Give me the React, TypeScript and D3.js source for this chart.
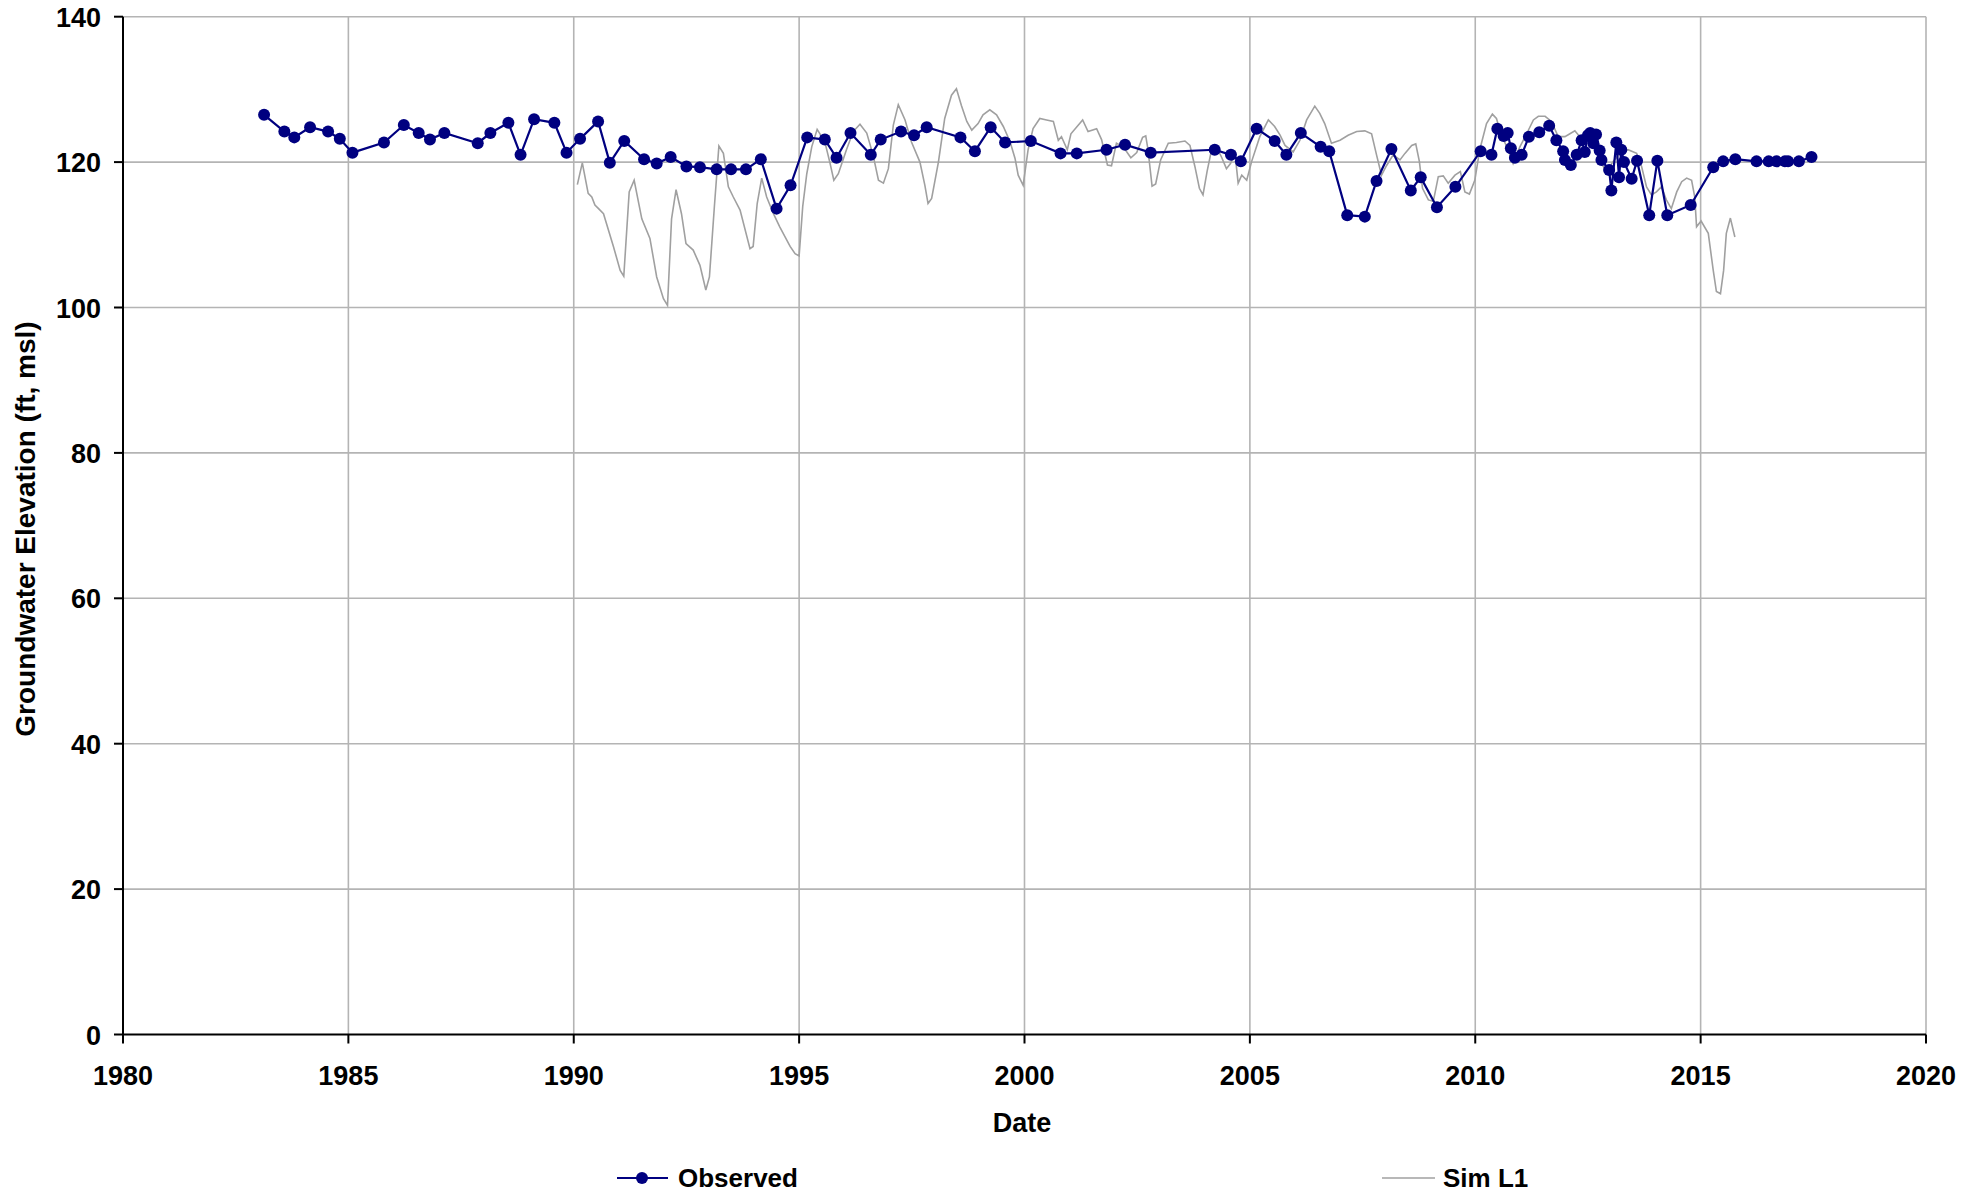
import React from "react";
import * as d3 from "d3";

const obsYear = [
  1983.13, 1983.58, 1983.8, 1984.15, 1984.55, 1984.81, 1985.09, 1985.79, 1986.23, 1986.56,
  1986.81, 1987.13, 1987.87, 1988.15, 1988.55, 1988.82, 1989.12, 1989.57, 1989.84, 1990.14,
  1990.54, 1990.8, 1991.12, 1991.56, 1991.84, 1992.15, 1992.5, 1992.8, 1993.17, 1993.49,
  1993.82, 1994.15, 1994.5, 1994.81, 1995.18, 1995.57, 1995.83, 1996.14, 1996.59, 1996.81,
  1997.26, 1997.55, 1997.83, 1998.58, 1998.9, 1999.25, 1999.57, 2000.14, 2000.8, 2001.16,
  2001.82, 2002.23, 2002.8, 2004.22, 2004.58, 2004.8, 2005.15, 2005.55, 2005.81, 2006.13,
  2006.57, 2006.76, 2007.16, 2007.55, 2007.81, 2008.14, 2008.57, 2008.79, 2009.15, 2009.56,
  2010.12, 2010.36, 2010.49, 2010.63, 2010.72, 2010.79, 2010.88, 2011.03, 2011.19, 2011.42,
  2011.64, 2011.8, 2011.95, 2011.99, 2012.12, 2012.25, 2012.36, 2012.43, 2012.5, 2012.55,
  2012.62, 2012.68, 2012.76, 2012.8, 2012.97, 2013.02, 2013.13, 2013.19, 2013.24, 2013.3,
  2013.47, 2013.59, 2013.86, 2014.04, 2014.26, 2014.78, 2015.28, 2015.5, 2015.77, 2016.24,
  2016.51, 2016.68, 2016.87, 2016.94, 2017.18, 2017.46,
];
const obsValue = [
  126.5, 124.2, 123.4, 124.8, 124.2, 123.2, 121.3, 122.7, 125.1, 124.0,
  123.1, 124.0, 122.6, 124.0, 125.4, 121.0, 125.9, 125.4, 121.3, 123.2,
  125.6, 119.9, 122.9, 120.4, 119.8, 120.7, 119.4, 119.3, 119.0, 119.0,
  119.0, 120.4, 113.6, 116.8, 123.4, 123.1, 120.6, 124.0, 121.0, 123.1,
  124.2, 123.7, 124.8, 123.4, 121.5, 124.8, 122.7, 122.9, 121.2, 121.2,
  121.7, 122.4, 121.3, 121.7, 121.0, 120.1, 124.6, 122.9, 121.0, 124.0,
  122.1, 121.5, 112.7, 112.5, 117.4, 121.8, 116.1, 117.9, 113.8, 116.6,
  121.5, 121.0, 124.6, 123.6, 124.0, 121.9, 120.6, 121.0, 123.5, 124.1,
  125.0, 123.0, 121.5, 120.3, 119.6, 121.0, 123.0, 121.4, 123.7, 124.0,
  122.6, 123.8, 121.6, 120.3, 118.9, 116.1, 122.7, 117.9, 121.7, 120.0,
  117.7, 120.2, 112.7, 120.2, 112.7, 114.1, 119.3, 120.1, 120.4, 120.1,
  120.1, 120.1, 120.1, 120.1, 120.1, 120.7,
];

const simYear = [
  1990.08, 1990.19, 1990.32, 1990.4, 1990.47, 1990.55, 1990.66, 1990.88, 1991.03, 1991.11,
  1991.23, 1991.34, 1991.51, 1991.69, 1991.84, 1991.99, 1992.08, 1992.17, 1992.27, 1992.39,
  1992.49, 1992.65, 1992.8, 1992.93, 1993.01, 1993.12, 1993.22, 1993.32, 1993.43, 1993.54,
  1993.69, 1993.91, 1993.98, 1994.07, 1994.17, 1994.28, 1994.43, 1994.57, 1994.8, 1994.91,
  1995.0, 1995.08, 1995.17, 1995.28, 1995.4, 1995.57, 1995.68, 1995.77, 1995.87, 1996.05,
  1996.2, 1996.35, 1996.5, 1996.64, 1996.76, 1996.87, 1996.98, 1997.09, 1997.2, 1997.35,
  1997.49, 1997.68, 1997.79, 1997.86, 1997.94, 1998.09, 1998.23, 1998.38, 1998.49, 1998.6,
  1998.72, 1998.83, 1998.97, 1999.08, 1999.23, 1999.38, 1999.53, 1999.68, 1999.79, 1999.86,
  1999.97, 2000.08, 2000.19, 2000.34, 2000.49, 2000.64, 2000.75, 2000.82, 2000.95, 2001.03,
  2001.29, 2001.41, 2001.6, 2001.71, 2001.84, 2001.93, 2002.04, 2002.19, 2002.36, 2002.49,
  2002.62, 2002.69, 2002.74, 2002.83, 2002.91, 2003.02, 2003.19, 2003.37, 2003.56, 2003.67,
  2003.78, 2003.88, 2003.96, 2004.05, 2004.15, 2004.26, 2004.37, 2004.48, 2004.57, 2004.67,
  2004.74, 2004.82, 2004.93, 2005.04, 2005.22, 2005.41, 2005.55, 2005.67, 2005.78, 2005.96,
  2006.11, 2006.26, 2006.44, 2006.55, 2006.66, 2006.81, 2007.0, 2007.18, 2007.37, 2007.55,
  2007.7, 2007.81, 2007.92, 2008.03, 2008.18, 2008.33, 2008.44, 2008.59, 2008.68, 2008.76,
  2008.83, 2008.96, 2009.07, 2009.18, 2009.29, 2009.4, 2009.55, 2009.67, 2009.77, 2009.87,
  2009.99, 2010.1, 2010.25, 2010.38, 2010.47, 2010.58, 2010.73, 2010.84, 2010.99, 2011.14,
  2011.29, 2011.4, 2011.55, 2011.69, 2011.84, 2011.99, 2012.1, 2012.21, 2012.32, 2012.47,
  2012.62, 2012.73, 2012.8, 2012.91, 2013.06, 2013.21, 2013.39, 2013.58, 2013.69, 2013.8,
  2013.91, 2014.02, 2014.13, 2014.24, 2014.35, 2014.47, 2014.58, 2014.69, 2014.8, 2014.87,
  2014.91, 2015.01, 2015.17, 2015.28, 2015.35, 2015.44, 2015.51, 2015.57, 2015.66, 2015.76,
];
const simValue = [
  116.9, 119.9, 115.7, 115.2, 114.1, 113.6, 112.9, 108.4, 105.1, 104.3,
  115.9, 117.5, 112.2, 109.5, 104.2, 101.2, 100.3, 112.2, 116.2, 112.9,
  108.8, 107.9, 105.8, 102.4, 104.2, 113.9, 122.2, 121.2, 116.6, 115.2,
  113.4, 108.1, 108.4, 114.3, 117.8, 115.2, 112.9, 111.1, 108.4, 107.4,
  107.1, 113.9, 118.4, 122.1, 124.5, 122.8, 120.0, 117.5, 118.4, 121.7,
  124.2, 125.2, 124.0, 121.0, 117.5, 117.1, 119.1, 125.1, 127.9, 125.8,
  122.8, 120.0, 116.8, 114.3, 115.0, 120.0, 126.0, 129.2, 130.1, 127.8,
  125.6, 124.4, 125.3, 126.5, 127.2, 126.5, 124.9, 122.8, 120.5, 118.2,
  116.8, 121.7, 124.6, 126.0, 125.8, 125.6, 123.0, 123.5, 121.7, 123.9,
  125.8, 124.2, 124.6, 123.1, 119.6, 119.5, 122.6, 122.1, 120.6, 121.3,
  123.4, 123.6, 121.7, 116.7, 117.0, 120.3, 122.6, 122.7, 122.9, 122.3,
  119.4, 116.4, 115.5, 118.7, 121.7, 122.1, 120.7, 119.1, 119.8, 121.2,
  117.1, 118.2, 117.5, 120.1, 123.5, 125.8, 124.9, 123.7, 122.3, 121.4,
  123.0, 125.8, 127.7, 126.7, 125.3, 122.6, 123.0, 123.7, 124.2, 124.3,
  123.9, 121.0, 118.2, 119.5, 121.0, 120.3, 121.2, 122.3, 122.5, 120.1,
  116.4, 114.8, 114.6, 118.0, 118.1, 117.1, 118.2, 118.7, 115.9, 115.6,
  117.5, 121.7, 125.3, 126.6, 126.0, 123.7, 121.7, 119.8, 122.1, 123.9,
  125.8, 126.3, 126.3, 125.6, 123.5, 123.5, 123.9, 124.3, 123.5, 123.3,
  122.8, 121.7, 119.8, 118.7, 120.1, 121.2, 121.7, 121.2, 119.4, 116.6,
  115.5, 115.9, 116.6, 114.8, 113.6, 115.9, 117.3, 117.8, 117.5, 115.2,
  111.1, 111.9, 110.2, 105.1, 102.2, 101.9, 105.1, 110.2, 112.3, 109.7,
];

const xTicks = [1980, 1985, 1990, 1995, 2000, 2005, 2010, 2015, 2020];
const yTicks = [0, 20, 40, 60, 80, 100, 120, 140];

const FONT = "'Liberation Sans', Arial, Helvetica, sans-serif";

export default function App() {
  const W = 1983;
  const H = 1194;
  const left = 123;
  const right = 1926;
  const top = 16.7;
  const bottom = 1034.5;

  const x = d3.scaleLinear().domain([1980, 2020]).range([left, right]);
  const y = d3.scaleLinear().domain([0, 140]).range([bottom, top]);

  const obs = obsYear.map((t, i) => [t, obsValue[i]] as [number, number]);
  const sim = simYear.map((t, i) => [t, simValue[i]] as [number, number]);
  const line = d3
    .line<[number, number]>()
    .x((d) => x(d[0]))
    .y((d) => y(d[1]));

  const gridColor = "#b4b4b4";
  const navy = "#000080";
  const simColor = "#a0a0a0";

  return (
    <svg
      width={W}
      height={H}
      style={{ position: "absolute", left: 0, top: 0, background: "#fff" }}
      fontFamily={FONT}
    >
      <rect x={0} y={0} width={W} height={H} fill="#fff" />
      {yTicks
        .filter((t) => t > 0)
        .map((t) => (
          <line key={"hy" + t} x1={left} x2={right} y1={y(t)} y2={y(t)} stroke={gridColor} strokeWidth={1.6} />
        ))}
      {xTicks
        .filter((t) => t > 1980)
        .map((t) => (
          <line key={"vx" + t} x1={x(t)} x2={x(t)} y1={top} y2={bottom} stroke={gridColor} strokeWidth={1.6} />
        ))}
      <line x1={left} x2={left} y1={top} y2={bottom} stroke="#000" strokeWidth={2} />
      <line x1={left} x2={right} y1={bottom} y2={bottom} stroke="#000" strokeWidth={2} />
      {yTicks.map((t) => (
        <g key={"yt" + t}>
          <line x1={left - 9} x2={left} y1={y(t)} y2={y(t)} stroke="#000" strokeWidth={2} />
          <text
            x={101}
            y={y(t) + 1}
            textAnchor="end"
            dominantBaseline="central"
            fontSize={27}
            fontWeight="bold"
          >
            {t}
          </text>
        </g>
      ))}
      {xTicks.map((t) => (
        <g key={"xt" + t}>
          <line x1={x(t)} x2={x(t)} y1={bottom} y2={bottom + 9} stroke="#000" strokeWidth={2} />
          <text x={x(t)} y={1085} textAnchor="middle" fontSize={27} fontWeight="bold">
            {t}
          </text>
        </g>
      ))}
      <text x={1022} y={1132} textAnchor="middle" fontSize={27} fontWeight="bold">
        Date
      </text>
      <text
        transform={`translate(25,${529}) rotate(-90)`}
        textAnchor="middle"
        dominantBaseline="central"
        fontSize={28}
        fontWeight="bold"
      >
        Groundwater Elevation (ft, msl)
      </text>

      <path d={line(sim) || ""} fill="none" stroke={simColor} strokeWidth={1.6} />
      <path d={line(obs) || ""} fill="none" stroke={navy} strokeWidth={2.2} />
      {obs.map((d, i) => (
        <circle key={"o" + i} cx={x(d[0])} cy={y(d[1])} r={6} fill={navy} />
      ))}

      <line x1={617} x2={668} y1={1178} y2={1178} stroke={navy} strokeWidth={2.2} />
      <circle cx={642} cy={1178} r={6} fill={navy} />
      <text x={678} y={1187} fontSize={26} fontWeight="bold">
        Observed
      </text>
      <line x1={1382} x2={1435} y1={1178} y2={1178} stroke={simColor} strokeWidth={1.6} />
      <text x={1443} y={1187} fontSize={26} fontWeight="bold">
        Sim L1
      </text>
    </svg>
  );
}
